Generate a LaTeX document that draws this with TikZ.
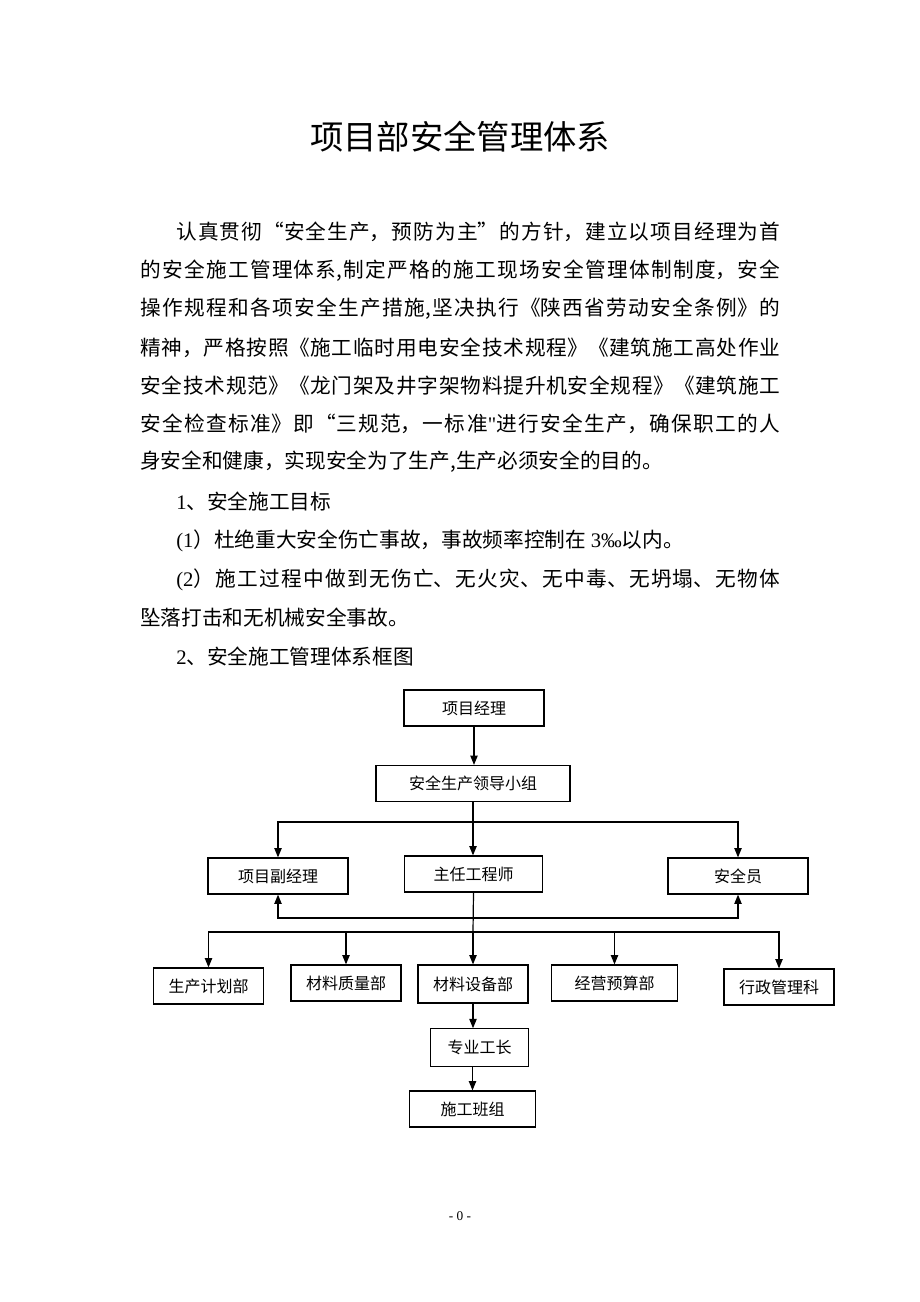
\documentclass[tikz,border=0pt]{standalone}
\usepackage{fontspec}
\setmainfont{Noto Sans CJK SC}
\newfontfamily\lat{Liberation Serif}
\newfontfamily\latq{Liberation Serif}[Ligatures=TeXOff]
\usetikzlibrary{arrows.meta}
\XeTeXlinebreaklocale "zh"
\XeTeXlinebreakskip=0pt plus 3pt
\newcommand\fullline[1]{\parbox{480pt}{\tolerance=10000\parfillskip=0pt\noindent #1}}
\newcommand\indline[1]{\parbox{453pt}{\tolerance=10000\parfillskip=0pt\noindent #1}}

\begin{document}
\begin{tikzpicture}[x=0.75pt, y=-0.75pt,
  box/.style={draw, line width=0.9pt, minimum height=27pt, inner sep=0pt, font=\fontsize{12}{14}\selectfont},
  arr/.style={line width=0.9pt, -{Triangle[length=7pt,width=5.5pt]}},
  body/.style={anchor=west, inner sep=0pt, font=\fontsize{15.5}{18}\selectfont}]
\useasboundingbox[fill=white] (0,0) rectangle (920,1302);

% title and text
\node[font=\fontsize{25}{30}\selectfont] (title) at (460,137) {项目部安全管理体系};
\node[body] (l1) at (176,232) {\indline{认真贯彻“安全生产，预防为主”的方针，建立以项目经理为首}};
\node[body] (l2) at (140,271) {\fullline{的安全施工管理体系,制定严格的施工现场安全管理体制制度，安全}};
\node[body] (l3) at (140,309) {\fullline{操作规程和各项安全生产措施,坚决执行《陕西省劳动安全条例》的}};
\node[body] (l4) at (140,348) {\fullline{精神，严格按照《施工临时用电安全技术规程》《建筑施工高处作业}};
\node[body] (l5) at (140,386) {\fullline{安全技术规范》《龙门架及井字架物料提升机安全规程》《建筑施工}};
\node[body] (l6) at (140,424) {\fullline{安全检查标准》即“三规范，一标准{\latq"}进行安全生产，确保职工的人}};
\node[body] (l7) at (140,462) {身安全和健康，实现安全为了生产,生产必须安全的目的。};
\node[body] (l8) at (176,502) {{\lat 1}、安全施工目标};
\node[body] (l9) at (176,541) {{\lat (1}）杜绝重大安全伤亡事故，事故频率控制在 {\lat 3‰}以内。};
\node[body] (l10) at (176,580) {\indline{{\lat (2}）施工过程中做到无伤亡、无火灾、无中毒、无坍塌、无物体}};
\node[body] (l11) at (140,618) {坠落打击和无机械安全事故。};
\node[body] (l12) at (176,657) {{\lat 2}、安全施工管理体系框图};

% boxes
\node[box, minimum width=105pt] (pm) at (474,708) {项目经理};
\node[box, minimum width=145.5pt] (grp) at (473,783.5) {安全生产领导小组};
\node[box, minimum width=105pt] (vpm) at (278,876) {项目副经理};
\node[box, minimum width=104pt] (eng) at (473.5,874) {主任工程师};
\node[box, minimum width=105pt] (saf) at (738,876) {安全员};
\node[box, minimum width=83pt] (d1) at (208.5,986) {生产计划部};
\node[box, minimum width=82.5pt] (d2) at (346,983) {材料质量部};
\node[box, minimum width=82.5pt, minimum height=28.5pt] (d3) at (473,984) {材料设备部};
\node[box, minimum width=94pt] (d4) at (614.5,983) {经营预算部};
\node[box, minimum width=82.5pt] (d5) at (779,987) {行政管理科};
\node[box, minimum width=73pt, minimum height=28pt] (fm) at (479.5,1047.5) {专业工长};
\node[box, minimum width=94pt] (tm) at (472.5,1109) {施工班组};

% connectors
\coordinate (j1) at (473,822);
\coordinate (j2) at (473,918);
\coordinate (j3) at (473,932);
\draw[arr] (pm.south) -- (pm.south |- grp.north);
\draw[arr] (grp.south) -- (grp.south |- eng.north);
\draw[arr] (j1) -| (vpm);
\draw[arr] (j1) -| (saf);
\draw[line width=0.9pt] (eng.south) -- (j3);
\draw[arr] (j2) -| (vpm);
\draw[arr] (j2) -| (saf);
\foreach \d in {d1,d2,d3,d4,d5}
  \draw[arr] (j3) -| (\d);
\draw[arr] (d3.south) -- (d3.south |- fm.north);
\draw[arr] (tm.north |- fm.south) -- (tm.north);

\node[font=\lat\fontsize{10}{12}\selectfont] (pg) at (460,1216) {- 0 -};
\end{tikzpicture}
\end{document}
